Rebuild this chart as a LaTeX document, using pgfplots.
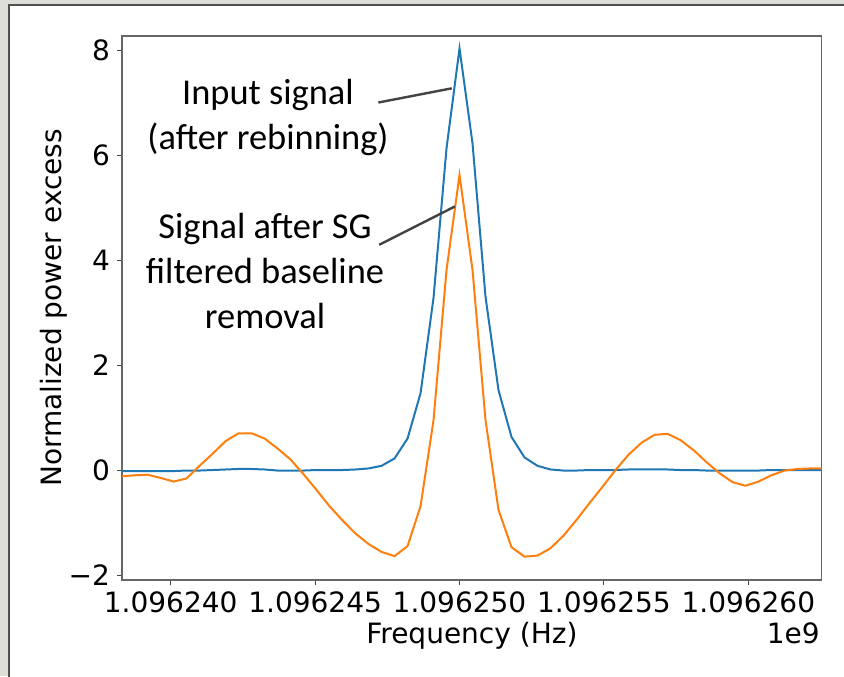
\documentclass[border=0pt]{standalone}
\usepackage{fontspec}
\setmainfont{DejaVu Sans}
\newfontfamily\annfont{Carlito}
\usepackage{pgfplots}
\pgfplotsset{compat=1.18}
\definecolor{mplblue}{HTML}{1F77B4}
\definecolor{mplorange}{HTML}{FF7F0E}
\definecolor{bggray}{RGB}{222,222,216}
\definecolor{framegray}{RGB}{82,78,78}
\definecolor{anngray}{RGB}{70,66,66}
\newcommand{\tickfont}{\fontsize{14}{16.5}\selectfont}
\newcommand{\annsize}{\annfont\fontsize{18.2}{22}\selectfont}
\begin{document}
\begin{tikzpicture}
\useasboundingbox (0,0) rectangle (422pt,338pt);
\fill[bggray] (0,0) rectangle (422pt,338pt);
\fill[white] (4.3pt,0) rectangle (422pt,335.5pt);
\draw[framegray, line width=1pt] (4.3pt,-1pt) -- (4.3pt,335.5pt) -- (423pt,335.5pt);
\begin{axis}[
  at={(61pt,48pt)}, anchor=south west,
  scale only axis, width=349.85pt, height=272pt,
  xmin=-1.686, xmax=22.54, ymin=-2.095, ymax=8.267,
  xtick={0,5,10,15,20},
  xticklabels={1.096240,1.096245,1.096250,1.096255,1.096260},
  ytick={-2,0,2,4,6,8},
  yticklabels={−2,0,2,4,6,8},
  xtick pos=lower, ytick pos=left,
  tick align=outside, major tick length=2.5pt,
  tick style={black!75, line width=0.5pt},
  axis line style={black!60, line width=0.6pt},
  tick label style={font=\tickfont},
  /pgf/number format/assume math mode=true,
  label style={font=\tickfont},
  xlabel={Frequency (Hz)},
  ylabel={Normalized power excess},
  xlabel style={at={(axis description cs:0.5,-0.1158)}, anchor=base},
  ylabel style={at={(axis description cs:-0.097,0.5)}, anchor=center},
]
\addplot[mplblue, line width=1pt] coordinates {
(-1.70,-0.02) (-1.25,-0.02) (-0.80,-0.02) (-0.35,-0.02) (0.10,-0.02)
(0.55,-0.01) (1.00,-0.01) (1.45,0.00) (1.90,0.01) (2.35,0.02)
(2.80,0.02) (3.25,0.01) (3.70,-0.01) (4.15,-0.01) (4.60,-0.01)
(5.05,0.00) (5.50,0.00) (5.95,0.00) (6.40,0.01) (6.85,0.03)
(7.30,0.08) (7.75,0.22) (8.20,0.60) (8.65,1.46) (9.10,3.28)
(9.55,6.13) (10.00,8.03) (10.45,6.22) (10.90,3.30) (11.35,1.52)
(11.80,0.63) (12.25,0.24) (12.70,0.08) (13.15,0.01) (13.60,-0.01)
(14.05,-0.01) (14.50,0.00) (14.95,0.00) (15.40,0.00) (15.85,0.01)
(16.30,0.01) (16.75,0.01) (17.20,0.01) (17.65,0.00) (18.10,0.00)
(18.55,-0.01) (19.00,-0.01) (19.45,-0.01) (19.90,-0.01) (20.35,-0.01)
(20.80,0.00) (21.25,0.00) (21.70,0.00) (22.15,0.00) (22.60,0.00)
};
\addplot[mplorange, line width=1pt] coordinates {
(-1.70,-0.12) (-1.25,-0.10) (-0.80,-0.09) (-0.35,-0.15) (0.10,-0.22)
(0.55,-0.16) (1.00,0.08) (1.45,0.31) (1.90,0.55) (2.35,0.70)
(2.80,0.70) (3.25,0.60) (3.70,0.41) (4.15,0.20) (4.60,-0.08)
(5.05,-0.38) (5.50,-0.69) (5.95,-0.96) (6.40,-1.21) (6.85,-1.41)
(7.30,-1.56) (7.75,-1.64) (8.20,-1.45) (8.65,-0.69) (9.10,0.95)
(9.55,3.81) (10.00,5.62) (10.45,3.81) (10.90,0.95) (11.35,-0.76)
(11.80,-1.47) (12.25,-1.65) (12.70,-1.63) (13.15,-1.49) (13.60,-1.25)
(14.05,-0.95) (14.50,-0.63) (14.95,-0.32) (15.40,0.00) (15.85,0.29)
(16.30,0.52) (16.75,0.67) (17.20,0.69) (17.65,0.57) (18.10,0.38)
(18.55,0.15) (19.00,-0.06) (19.45,-0.23) (19.90,-0.30) (20.35,-0.22)
(20.80,-0.10) (21.25,-0.01) (21.70,0.02) (22.15,0.03) (22.60,0.03)
};
\draw[anngray, line width=1.2pt] (axis cs:7.19,7.00) -- (axis cs:9.73,7.27);
\draw[anngray, line width=1.2pt] (axis cs:7.22,4.29) -- (axis cs:9.84,5.02);
\end{axis}
\node[font=\tickfont, anchor=base east, inner sep=0pt] at (410pt,16.5pt) {1e9};
\node[font=\annsize, anchor=base, inner sep=0pt] at (134pt,285.5pt) {Input signal};
\node[font=\annsize, anchor=base, inner sep=0pt] at (134pt,263pt) {(after rebinning)};
\node[font=\annsize, anchor=base, inner sep=0pt] at (132.5pt,218.85pt) {Signal after SG};
\node[font=\annsize, anchor=base, inner sep=0pt] at (132.5pt,196.35pt) {filtered baseline};
\node[font=\annsize, anchor=base, inner sep=0pt] at (132.5pt,173.85pt) {removal};
\end{tikzpicture}
\end{document}
